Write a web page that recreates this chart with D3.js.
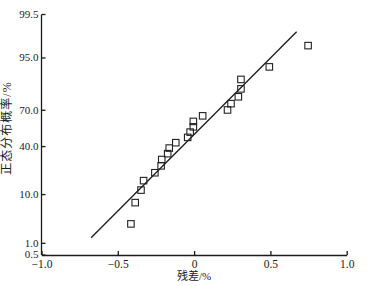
<!DOCTYPE html>
<html>
<head>
<meta charset="utf-8">
<script src="https://cdn.jsdelivr.net/npm/d3@7"></script>
<style>
  html, body { margin: 0; padding: 0; background: #fff; }
  svg { display: block; }
</style>
</head>
<body>
<svg id="chart" width="370" height="286"></svg>
<script>
// Residuals (%) and normal probability (%)
const residuals = [-0.414, -0.386, -0.348, -0.331, -0.257, -0.216, -0.212, -0.173, -0.163, -0.120,
                   -0.042, -0.026, -0.005, -0.005, 0.056, 0.219, 0.242, 0.290, 0.307, 0.307, 0.493, 0.747];
const probabilities = [2.81, 7.30, 11.80, 16.29, 20.79, 25.28, 29.78, 34.27, 38.76, 43.26,
                       47.75, 52.25, 56.74, 61.24, 65.73, 70.22, 74.72, 79.21, 83.71, 88.20, 92.70, 97.19];
// Reference normal line endpoints: [residual, probability %]
const lineX = [-0.675, 0.672];
const lineP = [1.37, 98.63];
const xTicks = [-1.0, -0.5, 0, 0.5, 1.0];
const xTickLabels = ["\u22121.0", "\u22120.5", "0", "0.5", "1.0"];
const yTicks = [0.5, 1.0, 10.0, 40.0, 70.0, 95.0, 99.5];
const yTickLabels = ["0.5", "1.0", "10.0", "40.0", "70.0", "95.0", "99.5"];
const xTitle = "残差/%";
const yTitle = "正态分布概率/%";

// Inverse normal CDF (Acklam)
function probit(p) {
  const a = [-3.969683028665376e+01, 2.209460984245205e+02, -2.759285104469687e+02, 1.383577518672690e+02, -3.066479806614716e+01, 2.506628277459239e+00];
  const b = [-5.447609879822406e+01, 1.615858368580409e+02, -1.556989798598866e+02, 6.680131188771972e+01, -1.328068155288572e+01];
  const c = [-7.784894002430293e-03, -3.223964580411365e-01, -2.400758277161838e+00, -2.549671348754700e+00, 4.374664141464968e+00, 2.938163982698783e+00];
  const d = [7.784695709041462e-03, 3.224671290700398e-01, 2.445134137142996e+00, 3.754408661907416e+00];
  const pl = 0.02425, ph = 1 - pl;
  let q, r;
  if (p < pl) { q = Math.sqrt(-2 * Math.log(p)); return (((((c[0]*q+c[1])*q+c[2])*q+c[3])*q+c[4])*q+c[5]) / ((((d[0]*q+d[1])*q+d[2])*q+d[3])*q+1); }
  if (p > ph) { q = Math.sqrt(-2 * Math.log(1 - p)); return -(((((c[0]*q+c[1])*q+c[2])*q+c[3])*q+c[4])*q+c[5]) / ((((d[0]*q+d[1])*q+d[2])*q+d[3])*q+1); }
  q = p - 0.5; r = q * q;
  return (((((a[0]*r+a[1])*r+a[2])*r+a[3])*r+a[4])*r+a[5])*q / (((((b[0]*r+b[1])*r+b[2])*r+b[3])*r+b[4])*r+1);
}

const svg = d3.select("#chart");
const mLeft = 41.5, mRight = 346.7, mTop = 14.5, mBottom = 255;
const x = d3.scaleLinear().domain([-1, 1]).range([mLeft, mRight]);
const yLin = d3.scaleLinear().domain([probit(0.005), probit(0.995)]).range([mBottom, mTop]);
const y = pct => yLin(probit(pct / 100));

const numFont = "'Liberation Serif', 'Times New Roman', serif";
const cjkFont = "'Liberation Serif', 'Noto Sans CJK SC', serif";
const ink = "#1a1a1a";

// X axis
const xAxis = d3.axisBottom(x).tickValues(xTicks).tickSize(0).tickFormat((d, i) => xTickLabels[i]);
const gx = svg.append("g").attr("transform", `translate(0,${mBottom})`).call(xAxis);
gx.select(".domain").attr("stroke", ink).attr("stroke-width", 1.3);
gx.selectAll(".tick text").attr("dy", "0").attr("y", 12.5).attr("fill", ink)
  .style("font-family", numFont).style("font-size", "11.5px");
gx.selectAll(".tick").append("line").attr("y1", 0).attr("y2", -4).attr("stroke", ink).attr("stroke-width", 1.3);

// Y axis
const gy = svg.append("g").attr("transform", `translate(${mLeft},0)`);
gy.append("line").attr("x1", 0).attr("x2", 0).attr("y1", mTop).attr("y2", mBottom).attr("stroke", ink).attr("stroke-width", 1.3);
const yt = gy.selectAll(".ytick").data(yTicks).join("g").attr("class", "ytick")
  .attr("transform", d => `translate(0,${y(d)})`);
yt.append("line").attr("x1", 0).attr("x2", 4).attr("stroke", ink).attr("stroke-width", 1.3);
yt.append("text").attr("x", -3).attr("dy", "0.3em").attr("text-anchor", "end").attr("fill", ink)
  .style("font-family", numFont).style("font-size", "11px")
  .text((d, i) => yTickLabels[i]);

// Titles
svg.append("text").attr("x", x(0)).attr("y", 280).attr("text-anchor", "middle").attr("fill", ink)
  .style("font-family", cjkFont).style("font-size", "11px").text(xTitle);
svg.append("text").attr("transform", `translate(11,128) rotate(-90)`).attr("text-anchor", "middle").attr("fill", ink)
  .style("font-family", cjkFont).style("font-size", "12px").style("letter-spacing", "1px").text(yTitle);

// Reference line
const linePts = lineX.map((v, i) => [x(v), y(lineP[i])]);
svg.append("path").attr("d", d3.line()(linePts)).attr("fill", "none").attr("stroke", ink).attr("stroke-width", 1.3);

// Points
const s = 6.5;
svg.append("g").selectAll("rect").data(residuals).join("rect")
  .attr("x", (d) => x(d) - s / 2)
  .attr("y", (d, i) => y(probabilities[i]) - s / 2)
  .attr("width", s).attr("height", s)
  .attr("fill", "none").attr("stroke", "#222").attr("stroke-width", 1.1);
</script>
</body>
</html>
